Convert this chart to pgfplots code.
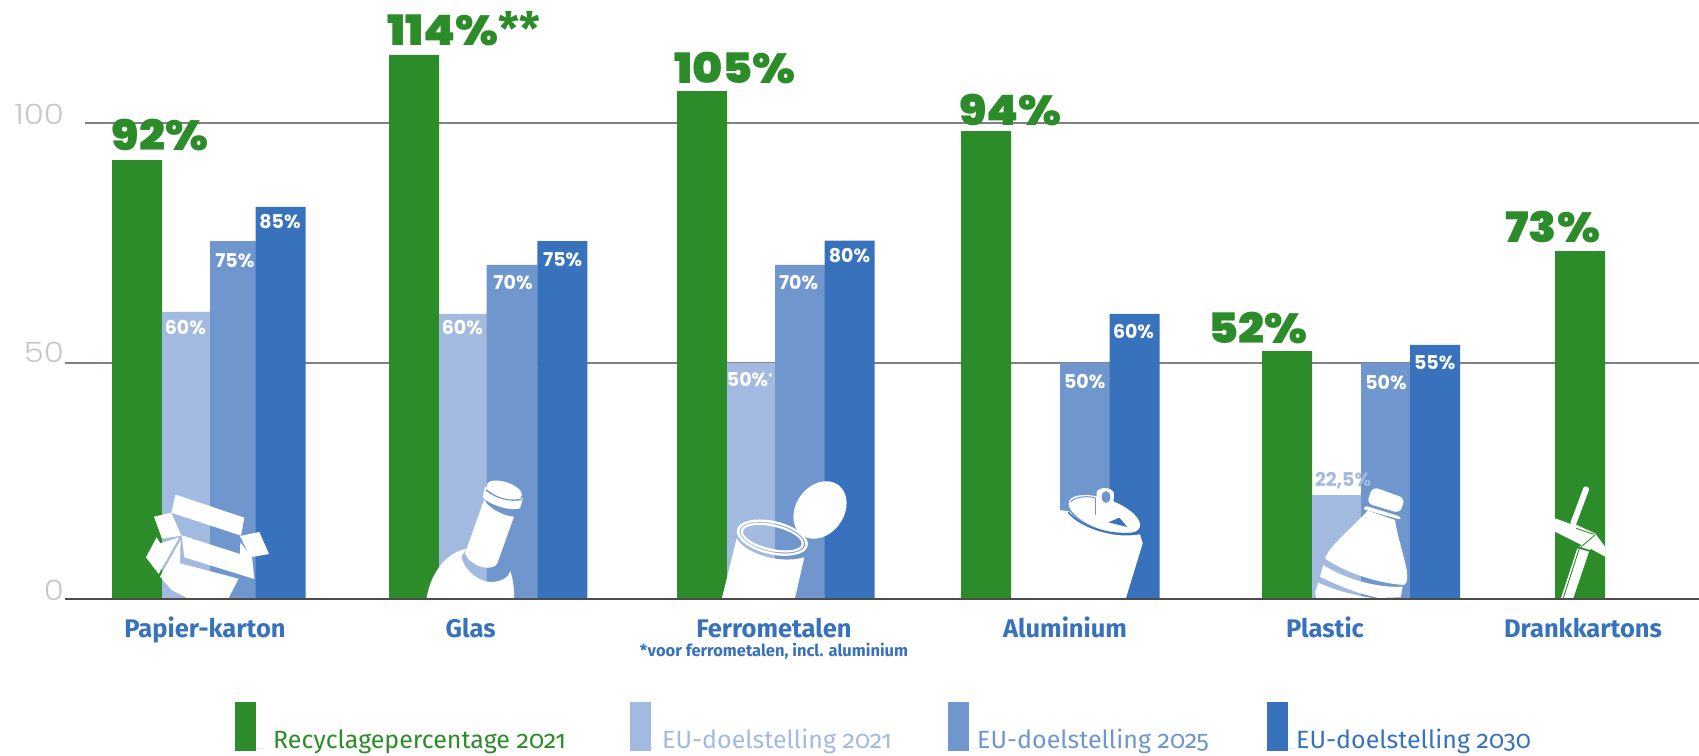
\documentclass[border=0pt]{standalone}
\usepackage{pgfplots}
\pgfplotsset{compat=1.18}
\usepackage{fontspec}
\usepackage{graphicx}
\setmainfont{Fira Sans}
\newfontfamily\metab{Fira Sans}[UprightFont=* Bold]
\newfontfamily\metal{Fira Sans}[Numbers=OldStyle]
\newfontfamily\polight{Poppins}[UprightFont=* Light]
\newfontfamily\poblack{Poppins}[UprightFont=* Black]
\newfontfamily\pobold{Poppins}[UprightFont=* Bold]
\definecolor{cgreen}{HTML}{2D8C2A}
\definecolor{clight}{HTML}{A3BAE0}
\definecolor{cmid}{HTML}{7096CE}
\definecolor{cdark}{HTML}{3872BC}
\definecolor{cgrid}{HTML}{808080}
\pgfplotsset{swatch/.style={legend image code/.code={\fill[#1] (0pt,-3pt) rectangle (21pt,46pt); \path (0pt,0pt) -- (29pt,0pt);}}}
\newcommand{\wl}[3]{\node[text=white,inner sep=0pt,font=\pobold\fontsize{19}{19}\selectfont] at (#1,#2) {#3};}
\newcommand{\gl}[3]{\node[text=cgreen,inner sep=0pt,font=\poblack\fontsize{42}{42}\selectfont] at (#1,#2) {\scalebox{1.09}[1]{#3}};}
\begin{document}
\begin{tikzpicture}[x=1pt,y=1pt]
\useasboundingbox (0,0) rectangle (1699,755);
\begin{axis}[
  at={(65pt,156pt)},anchor=south west,
  scale only axis,width=1634pt,height=599pt,
  xmin=65,xmax=1699,ymin=0,ymax=125.84,
  clip=false,axis on top,
  axis x line=bottom,axis y line=left,
  axis line style={-},
  y axis line style={draw=none},
  x axis line style={draw=black!70,line width=1.5pt},
  major tick length=0pt,
  xtick={205,470.7,774,1065,1325,1583},
  xticklabels={Papier-karton,Glas,Ferrometalen,Aluminium,Plastic,Drankkartons},
  xticklabel style={font=\metab\fontsize{25.5}{25.5}\selectfont,text=cdark,anchor=base,inner sep=0pt,yshift=-38pt},
  ytick={0,50,100},
  yticklabel={\scalebox{1.16}[1]{\pgfmathprintnumber{\tick}}},
  yticklabel style={font=\polight\fontsize{28}{28}\selectfont,text=black!22,anchor=east,inner sep=0pt,xshift=-1pt,yshift=9pt},
  /pgf/number format/assume math mode=true,
  legend columns=4,
  legend style={at={(axis cs:235,-21.64)},anchor=north west,draw=none,fill=none,inner sep=0pt,column sep=0pt,
    nodes={inner sep=0pt},cells={anchor=base west},font=\metal\fontsize{25}{25}\selectfont},
]
\addplot[forget plot,cgrid,line width=1.5pt] coordinates {(85,100)(1699,100)};
\addplot[forget plot,cgrid,line width=1.5pt] coordinates {(65,49.6)(1699,49.6)};
\addplot[ybar,bar shift=0pt,bar width=50,draw=none,fill=cgreen,swatch=cgreen] coordinates {(137,92.2)(414,114.3)(702,106.7)(986,98.3)(1287,52.1)(1580,73.1)};
\addplot[ybar,bar shift=0pt,bar width=50,draw=none,fill=clight,swatch=clight] coordinates {(187,60.3)(464,59.9)(752,49.6)(1337,21.8)};
\addplot[ybar,bar shift=0pt,bar width=51,draw=none,fill=cmid,swatch=cmid] coordinates {(235.5,75.2)(512,70.2)(800.5,70.2)(1085.5,49.6)(1386.5,49.6)};
\addplot[ybar,bar shift=0pt,bar width=50,draw=none,fill=cdark,swatch=cdark] coordinates {(280.6,82.4)(562.4,75.2)(849.7,75.3)(1134.7,59.9)(1435,53.4)};
\legend{\hspace{9pt}\textcolor{cgreen}{\makebox[357pt][l]{Recyclagepercentage 2021}},
\hspace{3pt}\textcolor{clight}{\makebox[286pt][l]{EU-doelstelling 2021}},
\textcolor{cmid}{\makebox[290pt][l]{EU-doelstelling 2025}},
\textcolor{cdark}{\makebox[234pt][l]{EU-doelstelling 2030}}}
\end{axis}
\begin{scope}[yshift=755pt,y=-1pt]
% icons
\begin{scope}[shift={(130,480)},x=0.3333pt,y=-0.3333pt,white]
\fill (137,44)--(343,113)--(333,167)--(124,98)--cycle;
\fill (72,110)--(124,98)--(154,167)--(96,176)--cycle;
\fill (330,168)--(388,156)--(417,222)--(361,232)--cycle;
\fill (155,166)--(330,222)--(331,187)--(352,214)--(366,232)--(373,297)--(163,232)--cycle;
\fill (80,172)--(91,190)--(148,172)--(86,282)--(48,232)--cycle;
\fill (152,180)--(150,250)--(326,296)--(296,354)--(172,354)--(125,330)--(90,290)--cycle;
\end{scope}
\begin{scope}[shift={(410,470)},x=0.3333pt,y=-0.3333pt,white]
\fill (50,384) .. controls (60,320) and (100,250) .. (170,236) -- (155,258) .. controls (155,290) and (200,335) .. (240,336) .. controls (270,336) and (295,325) .. (301,304) .. controls (310,330) and (313,360) .. (312,384) -- cycle;
\fill (222,90) .. controls (240,120) and (290,140) .. (312,140) -- (262,280) .. controls (250,305) and (185,295) .. (165,250) -- cycle;
\fill (225,50) -- (218,82) .. controls (240,105) and (300,125) .. (330,115) -- (339,85) -- cycle;
\draw[cmid,line width=1.5pt] (228,60) .. controls (260,85) and (300,95) .. (336,88);
\fill[shift={(283,60)},rotate=-18] (0,0) ellipse [x radius=55,y radius=24];
\end{scope}
\begin{scope}[shift={(710,470)},x=0.3333pt,y=-0.3333pt,white]
\fill (36,384) -- (80,205) .. controls (100,245) and (200,285) .. (283,262) -- (255,384) -- cycle;
\fill[even odd rule,shift={(187,203)},rotate=-13] (0,0) ellipse [x radius=109,y radius=50] (0,0) ellipse [x radius=101,y radius=43] (0,0) ellipse [x radius=97,y radius=40] (0,0) ellipse [x radius=90,y radius=33];
\fill[shift={(330,120)},rotate=54] (0,0) ellipse [x radius=93,y radius=72];
\end{scope}
\begin{scope}[shift={(1050,475)},x=0.3333pt,y=-0.3333pt,white]
\fill (0,369) -- (0,110) -- (30,105) -- (60,110) .. controls (100,170) and (200,190) .. (270,178) -- (278,205) -- (228,369) -- cycle;
\fill[shift={(163,118)},rotate=-20] (0,0) ellipse [x radius=113,y radius=46];
\draw[cdark,line width=1.5pt] (55,112) .. controls (100,165) and (200,185) .. (270,172);
\draw[cmid,line width=1pt] (62,80) .. controls (85,60) and (120,65) .. (136,68);
\fill[cdark] (175,142) -- (208,128) -- (232,156) -- cycle;
\fill (140,50) .. controls (150,35) and (185,35) .. (192,55) -- (188,130) .. controls (180,145) and (145,140) .. (138,120) -- cycle;
\draw[cmid,line width=0.8pt] (136,70) -- (136,120);
\fill[cmid] (168,66) ellipse [x radius=13,y radius=18];
\end{scope}
\begin{scope}[shift={(1300,470)},x=0.3333pt,y=-0.3333pt,white]
\fill[rounded corners=6pt] (218,50) -- (315,85) -- (300,130) -- (200,100) -- cycle;
\fill[rounded corners=2pt] (195,107) -- (302,140) -- (302,149) -- (190,118) -- cycle;
\fill (203,122) .. controls (160,170) and (90,225) .. (75,265) .. controls (130,305) and (230,340) .. (312,345) .. controls (325,340) and (322,310) .. (320,300) .. controls (310,250) and (290,190) .. (285,150) -- cycle;
\fill (70,285) .. controls (130,325) and (230,355) .. (308,350) -- (302,382) -- (235,384) .. controls (170,370) and (110,345) .. (60,320) -- cycle;
\fill (55,338) .. controls (100,360) and (160,375) .. (215,384) -- (48,384) -- (45,368) -- cycle;
\end{scope}
\begin{scope}[shift={(1540,480)},x=0.3333pt,y=-0.3333pt,white]
\draw[white,line width=6pt,line cap=round] (138,28) -- (100,130);
\fill (45,115) -- (92,132) -- (110,135) -- (165,160) -- (195,200) -- (195,230) -- (150,205) -- (125,195) -- (45,155) -- cycle;
\fill (112,205) -- (147,215) -- (100,354) -- (63,354) -- cycle;
\fill (165,165) -- (170,180) -- (150,210) -- (118,200) -- cycle;
\draw[cgreen,line width=0.9pt] (108,145) -- (162,163);
\draw[cgreen,line width=0.9pt] (45,160) -- (118,205) -- (165,165);
\draw[cgreen,line width=0.9pt] (118,205) -- (70,354);
\end{scope}
% value labels
\wl{185.4}{327.7}{60\%}\wl{234.8}{260.7}{75\%}\wl{280}{221.7}{85\%}
\wl{462.3}{327.7}{60\%}\wl{513}{283}{70\%}\wl{562.7}{259.3}{75\%}
\node[text=white,inner sep=0pt,font=\pobold\fontsize{19}{19}\selectfont] at (750,380) {50\%\raisebox{6pt}{\fontsize{9}{9}\selectfont *}};
\wl{798.6}{283}{70\%}\wl{849.5}{255.7}{80\%}
\wl{1084.7}{381.4}{50\%}\wl{1133.5}{331.6}{60\%}
\wl{1386}{382.5}{50\%}\wl{1434.7}{363}{55\%}
\node[text=clight,inner sep=0pt,font=\pobold\fontsize{19}{19}\selectfont] at (1343,480.7) {22,5\%};
\gl{160}{135}{92\%}
\node[text=cgreen,inner sep=0pt,anchor=base west,font=\poblack\fontsize{42}{42}\selectfont] at (387,46) {\scalebox{1.09}[1]{114\%}{\metab\fontsize{46}{46}\selectfont **}};
\gl{735}{68}{105\%}\gl{1010.5}{110}{94\%}\gl{1257.6}{328}{52\%}\gl{1552.8}{227}{73\%}
% footnote
\node[text=cdark,inner sep=0pt,anchor=base,font=\metab\fontsize{16.5}{16.5}\selectfont] at (774,656.5) {*voor ferrometalen, incl. aluminium};
\end{scope}
\end{tikzpicture}
\end{document}
